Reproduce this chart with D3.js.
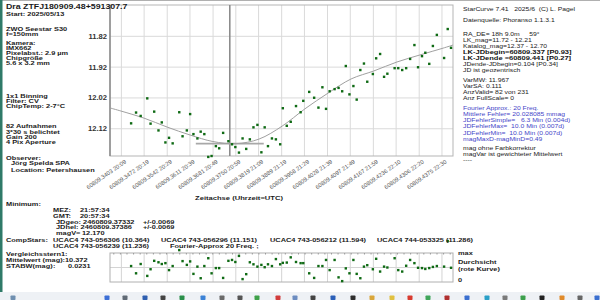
<!DOCTYPE html>
<html>
<head>
<meta charset="utf-8">
<script src="https://cdn.jsdelivr.net/npm/d3@7"></script>
<style>
  body { margin: 0; background: #fff; }
  svg { display: block; font-family: "Liberation Sans", Arial, sans-serif; }
</style>
</head>
<body>
<svg id="chart" width="600" height="300"></svg>
<script>
// observation times (JD - 2400000) and magnitudes
const jd = [60809.3434, 60809.3449, 60809.3463, 60809.3483, 60809.3493, 60809.3504, 60809.3517, 60809.3527, 60809.3538, 60809.3549,
  60809.3560, 60809.3580, 60809.3590, 60809.3603, 60809.3613, 60809.3623, 60809.3635, 60809.3645, 60809.3656, 60809.3668,
  60809.3678, 60809.3691, 60809.3701, 60809.3713, 60809.3729, 60809.3740, 60809.3750, 60809.3761, 60809.3772, 60809.3783,
  60809.3794, 60809.3805, 60809.3817, 60809.3829, 60809.3839, 60809.3849, 60809.3861, 60809.3873, 60809.3886, 60809.3894,
  60809.3906, 60809.3918, 60809.3934, 60809.3948, 60809.3956, 60809.3974, 60809.3989, 60809.4002, 60809.4014, 60809.4025,
  60809.4036, 60809.4051, 60809.4063, 60809.4074, 60809.4085, 60809.4096, 60809.4108, 60809.4118, 60809.4129, 60809.4140,
  60809.4150, 60809.4167, 60809.4177, 60809.4189, 60809.4201, 60809.4211, 60809.4233, 60809.4244, 60809.4256, 60809.4268,
  60809.4280, 60809.4293, 60809.4304, 60809.4316, 60809.4326, 60809.4338, 60809.4349, 60809.4361, 60809.4383, 60809.4394, 60809.4404];
const mag = [12.104, 12.069, 12.080, 12.023, 12.105, 12.066, 12.127, 12.101, 12.166, 12.151,
  12.169, 12.068, 12.146, 12.127, 12.074, 12.139, 12.153, 12.131, 12.139, 12.213,
  12.210, 12.178, 12.185, 12.135, 12.162, 12.172, 12.181, 12.199, 12.153, 12.187,
  12.156, 12.117, 12.109, 12.198, 12.117, 12.178, 12.153, 12.156, 12.172, 12.055,
  12.112, 12.099, 12.048, 12.068, 12.031, 12.002, 12.021, 12.053, 11.987, 12.057,
  12.000, 11.993, 11.989, 12.000, 11.918, 12.010, 11.983, 12.027, 11.931, 11.910,
  11.969, 11.944, 11.893, 11.879, 11.953, 11.943, 11.925, 11.925, 11.931, 11.925,
  11.895, 11.850, 11.922, 11.886, 11.875, 11.911, 11.853, 11.817, 11.892, 11.798, 11.859];
// transparency per frame (0 .. max)
const durchsicht = [0.55, 0.30, 0.62, 0.21, 0.44, 0.73, 0.68, 0.62, 0.65, 0.41,
  0.55, 1.10, 0.72, 0.59, 0.71, 0.28, 0.53, 0.13, 0.55, 0.82,
  0.30, 0.48, 0.48, 0.14, 0.73, 0.76, 0.69, 0.90, 0.10, 0.27,
  0.68, 0.61, 0.53, 0.59, 0.51, 0.61, 0.55, 0.79, 0.61, 0.66,
  0.67, 0.85, 0.69, 0.65, 0.65, 0.30, 0.14, 0.55, 0.55, 0.76,
  0.41, 0.76, 0.16, 0.03, 0.47, 0.30, 0.76, 0.28, 0.13, 0.53,
  0.58, 0.44, 0.80, 0.36, 0.53, 0.50, 0.82, 0.41, 0.36, 0.56,
  0.76, 0.65, 0.49, 0.48, 0.45, 0.48, 0.52, 0.55, 0.53, 1.41, 0.49];
// fourier fit
const fitJD = [60809.3370, 60809.3403, 60809.3473, 60809.3543, 60809.3613, 60809.3682, 60809.3752, 60809.3822, 60809.3892,
  60809.3961, 60809.4031, 60809.4101, 60809.4170, 60809.4240, 60809.4310, 60809.4380, 60809.4410];
const fitMag = [12.054, 12.064, 12.087, 12.116, 12.142, 12.163, 12.170, 12.155, 12.113,
  12.057, 12.006, 11.960, 11.934, 11.905, 11.882, 11.860, 11.850];

const jdRange = [60809.337, 60809.441];
const magRange = [11.72, 12.21];
const minJD = 60809.37332, minMag = 12.170, minSpan = 0.0103;
const yTicks = [11.82, 11.92, 12.02, 12.12];
const xTickLabels = ["60809.3403 20:09", "60809.3472 20:19", "60809.3542 20:29", "60809.3611 20:39", "60809.3681 20:49",
  "60809.3750 20:59", "60809.3819 21:09", "60809.3889 21:19", "60809.3958 21:29", "60809.4028 21:39",
  "60809.4097 21:49", "60809.4167 21:59", "60809.4236 22:10", "60809.4306 22:20", "60809.4375 22:30"];
const xTicks = xTickLabels.map((s) => +s.split(" ")[0]);

const svg = d3.select("#chart");

function txt(g, x, y, s, o = {}) {
  return g.append("text")
    .attr("transform", `translate(${x},${y}) scale(1,${o.sy || 0.82})`)
    .attr("font-size", o.size || 7.4)
    .attr("font-weight", o.bold === false ? "normal" : "bold")
    .attr("fill", o.color || "#1a1a1a")
    .text(s);
}

// window chrome
svg.append("rect").attr("width", 600).attr("height", 300).attr("fill", "#fff");
svg.append("line").attr("x1", 0).attr("x2", 600).attr("y1", 0.5).attr("y2", 0.5).attr("stroke", "#b0b0b0");
svg.append("rect").attr("x", 0).attr("y", 0).attr("width", 2.5).attr("height", 292).attr("fill", "#2f7a68");

// ---- main chart
const x = d3.scaleLinear().domain(jdRange).range([110, 453]);
const y = d3.scaleLinear().domain(magRange).range([5, 156]);

const plot = svg.append("g");

plot.append("g")
  .attr("transform", "translate(0,156)")
  .call(d3.axisBottom(x).tickValues(xTicks).tickSize(-151).tickFormat(""))
  .call((g) => g.select(".domain").remove())
  .call((g) => g.selectAll("line").attr("stroke", "#dadada"));

plot.append("g")
  .attr("transform", "translate(110,0)")
  .call(d3.axisLeft(y).tickValues(yTicks).tickSize(-343).tickFormat(""))
  .call((g) => g.select(".domain").remove())
  .call((g) => g.selectAll("line").attr("stroke", "#dadada"));

plot.append("rect").attr("x", 110).attr("y", 5).attr("width", 343).attr("height", 151)
  .attr("fill", "none").attr("stroke", "#b5b5b5");
plot.append("line").attr("x1", 110).attr("x2", 110).attr("y1", 5).attr("y2", 156)
  .attr("stroke", "#8a8a8a").attr("stroke-width", 1.5);

// y labels
const yAx = plot.append("g")
  .attr("transform", "translate(110,0)")
  .call(d3.axisLeft(y).tickValues(yTicks).tickSize(0).tickPadding(3).tickFormat(d3.format(".2f")));
yAx.select(".domain").remove();
yAx.selectAll("text").attr("font-size", 7.6).attr("font-weight", "bold").attr("fill", "#333")
  .attr("font-family", "Liberation Sans, Arial, sans-serif");

// x labels
const xAx = plot.append("g")
  .attr("transform", "translate(0,156)")
  .call(d3.axisBottom(x).tickValues(xTicks).tickSize(0).tickFormat((d, i) => xTickLabels[i]));
xAx.select(".domain").remove();
xAx.selectAll("text")
  .attr("font-size", 5.8).attr("fill", "#555").attr("font-family", "Liberation Sans, Arial, sans-serif")
  .attr("text-anchor", "end").attr("x", 4).attr("y", 5).attr("dy", "0.35em")
  .attr("transform", "rotate(-35,4,5)");

txt(svg, 239, 200, "Zeitachse (Uhrzeit=UTC)", { size: 7.6 }).attr("text-anchor", "middle");

// minimum marker
plot.append("line").attr("x1", x(minJD)).attr("x2", x(minJD)).attr("y1", 5).attr("y2", 156)
  .attr("stroke", "#8c8c8c").attr("stroke-width", 1.6);
plot.append("line").attr("x1", x(minJD - minSpan)).attr("x2", x(minJD + minSpan))
  .attr("y1", y(minMag)).attr("y2", y(minMag)).attr("stroke", "#a8a8a8").attr("stroke-width", 1.6);

// fit curve
const fit = fitJD.map((d, i) => [d, fitMag[i]]);
plot.append("path").datum(fit)
  .attr("fill", "none").attr("stroke", "#a0a0a0").attr("stroke-width", 1)
  .attr("d", d3.line().x((d) => x(d[0])).y((d) => y(d[1])).curve(d3.curveCatmullRom));

// points
plot.selectAll("rect.pt").data(jd).join("rect").attr("class", "pt")
  .attr("x", (d) => x(d) - 1.2).attr("y", (d, i) => y(mag[i]) - 1.2)
  .attr("width", 2.4).attr("height", 2.4).attr("fill", "#0f6a14");

// ---- lower chart (Durchsicht)
const y2 = d3.scaleLinear().domain([0, 1]).range([282, 253]);
const low = svg.append("g");
low.append("g")
  .attr("transform", "translate(0,282)")
  .call(d3.axisBottom(x).tickValues(xTicks).tickSize(-29).tickFormat(""))
  .call((g) => g.select(".domain").remove())
  .call((g) => g.selectAll("line").attr("stroke", "#d4d4d4"));
low.append("line").attr("x1", 110).attr("x2", 453).attr("y1", y2(0.5)).attr("y2", y2(0.5)).attr("stroke", "#d4d4d4");
low.append("rect").attr("x", 110).attr("y", 253).attr("width", 343).attr("height", 29)
  .attr("fill", "none").attr("stroke", "#b0b0b0");
low.append("g")
  .attr("transform", "translate(0,253)")
  .call(d3.axisBottom(x).ticks(60).tickSize(1.5).tickFormat(""))
  .call((g) => g.select(".domain").remove())
  .call((g) => g.selectAll("line").attr("stroke", "#9a9a9a"));
low.selectAll("rect.pt").data(jd).join("rect").attr("class", "pt")
  .attr("x", (d) => x(d) - 1.2).attr("y", (d, i) => y2(durchsicht[i]) - 1.2)
  .attr("width", 2.4).attr("height", 2.4).attr("fill", "#0f6a14");

txt(svg, 458, 254.5, "max");
txt(svg, 458, 264, "Durchsicht");
txt(svg, 458, 270.5, "(rote Kurve)");
txt(svg, 458, 282, "0");

// ---- left info column
txt(svg, 6, 9.2, "Dra ZTFJ180909.48+591307.7", { size: 8.8, sy: 0.85 });
txt(svg, 6, 15.8, "Start: 2025/05/13");
const leftLines = [
  [31, "ZWO Seestar S30"], [36, "f=150mm"], [45, "Kamera:"], [50, "IMX662"], [55, "Pixelabst.: 2.9 µm"],
  [59.8, "Chipgröße"], [64.8, "5.6 x 3.2 mm"], [98, "1x1 Binning"], [103.3, "Filter: CV"],
  [108.4, "ChipTemp: 2-7°C"], [128.4, "82 Aufnahmen"], [133.7, "3*30 s belichtet"], [138.5, "Gain 200"],
  [143.7, "4 Pix Aperture"], [159.7, "Observer:"]
];
leftLines.forEach(([yy, s]) => txt(svg, 6, yy, s));
txt(svg, 11, 165, "Jörg Spelda SPA");
txt(svg, 11, 172.4, "Location: Petershausen");

// ---- minimum block
txt(svg, 6, 205.7, "Minimum:");
txt(svg, 53, 212.3, "MEZ:"); txt(svg, 80, 212.3, "21:57:34");
txt(svg, 53, 218, "GMT:"); txt(svg, 80, 218, "20:57:34");
txt(svg, 56, 223.6, "JDgeo: 2460809.37332"); txt(svg, 143, 223.6, "+/-0.0069");
txt(svg, 56, 229.3, "JDhel: 2460809.37386"); txt(svg, 143, 229.3, "+/-0.0069");
txt(svg, 56, 235.2, "magV="); txt(svg, 82, 235.2, "12.170");
txt(svg, 6, 241.6, "CompStars:");
txt(svg, 53, 241.6, "UCAC4 743-056306 (10.364)");
txt(svg, 161, 241.6, "UCAC4 743-056296 (11.151)");
txt(svg, 270, 241.6, "UCAC4 743-056212 (11.594)");
txt(svg, 377, 241.6, "UCAC4 744-053325 (11.286)");
txt(svg, 53, 247.6, "UCAC4 743-056239 (11.236)");
txt(svg, 170, 247.6, "Fourier-Approx 20 Freq. ;");
txt(svg, 6, 255.6, "Vergleichsstern1:");
txt(svg, 6, 261.6, "Mittelwert (mag):"); txt(svg, 65, 261.6, "10.372");
txt(svg, 6, 268, "STABW(mag)"); txt(svg, 53, 268, ":"); txt(svg, 68, 268, "0.0231");

// ---- right info panel
const rp = svg.append("g");
const blue = "#4646c8";
const rightLines = [
  [10.8, "StarCurve 7.41   2025/6  (C) L. Pagel", false, "#222"],
  [21.5, "Datenquelle: Phoranso 1.1.3.1", false, "#222"],
  [35.8, "RA_DE= 18h 9.0m     59°", false, "#222"],
  [42.3, "LK_mag=11.72 - 12.21", false, "#222"],
  [48, "Katalog_mag=12.37 - 12.70", false, "#222"],
  [54.3, "LK-JDbegin=60809.337 [P0.93]", true, "#111"],
  [60, "LK-JDende =60809.441 [P0.27]", true, "#111"],
  [65.8, "JDende-JDbegin=0.104 [P0.34]", false, "#222"],
  [72.3, "JD ist geozentrisch", false, "#222"],
  [82.3, "VarMW: 11.967", false, "#222"],
  [88, "VarSA: 0.111", false, "#222"],
  [94, "AnzValid= 82 von 231", false, "#222"],
  [100.3, "Anz FullScale= 0", false, "#222"],
  [110, "Fourier Approx.: 20 Freq.", false, blue],
  [116.3, "Mittlere Fehler= 20.028085 mmag", false, blue],
  [122.3, "JDFehlerSimple=   6.3 Min (0.004d)", false, blue],
  [128.3, "JDFehlerMax=  10.0 Min (0.007d)", false, blue],
  [134.5, "JDFehlerMin=  10.0 Min (0.007d)", false, blue],
  [140.5, "magMaxD-magMinD=0.49", false, blue],
  [149.5, "mag ohne Farbkorrektur", false, "#222"],
  [155.5, "magVar ist gewichteter Mittelwert", false, "#222"],
  [162, "----", false, "#222"]
];
rightLines.forEach(([yy, s, b, c]) => {
  txt(rp, 463, yy, s, { bold: b, size: b ? 7.5 : 6.8, color: c, sy: b ? 0.78 : 0.86 })
    .style("white-space", "pre");
});

// ---- taskbar
svg.append("rect").attr("x", 0).attr("y", 292).attr("width", 600).attr("height", 8).attr("fill", "#eef1f5");
const icons = [[13, "#6f8fb0"], [107, "#3d6fd6"], [125, "#606a75"], [145, "#2f5fb0"], [163, "#444"], [182, "#2a8f4a"],
  [203, "#3b82d6"], [222, "#6a6a6a"], [240, "#555"], [257, "#3fa14a"], [278, "#d23c3c"], [295, "#6c8cc0"],
  [313, "#444"], [333, "#2b5fb8"], [353, "#2d2d2d"], [372, "#d9a63a"], [392, "#e0c040"], [410, "#d83a2f"],
  [428, "#3fa55a"], [447, "#b03030"], [467, "#3a6fd0"], [487, "#2aa0c8"], [505, "#7a7a7a"], [523, "#3ca04c"],
  [542, "#222"], [562, "#e08a2a"], [580, "#666"], [597, "#3a6fd0"]];
svg.selectAll("rect.icon").data(icons).join("rect").attr("class", "icon")
  .attr("x", (d) => d[0] - 2.5).attr("y", 295.5).attr("width", 5).attr("height", 4.5)
  .attr("rx", 0.8).attr("fill", (d) => d[1]);
</script>
</body>
</html>
